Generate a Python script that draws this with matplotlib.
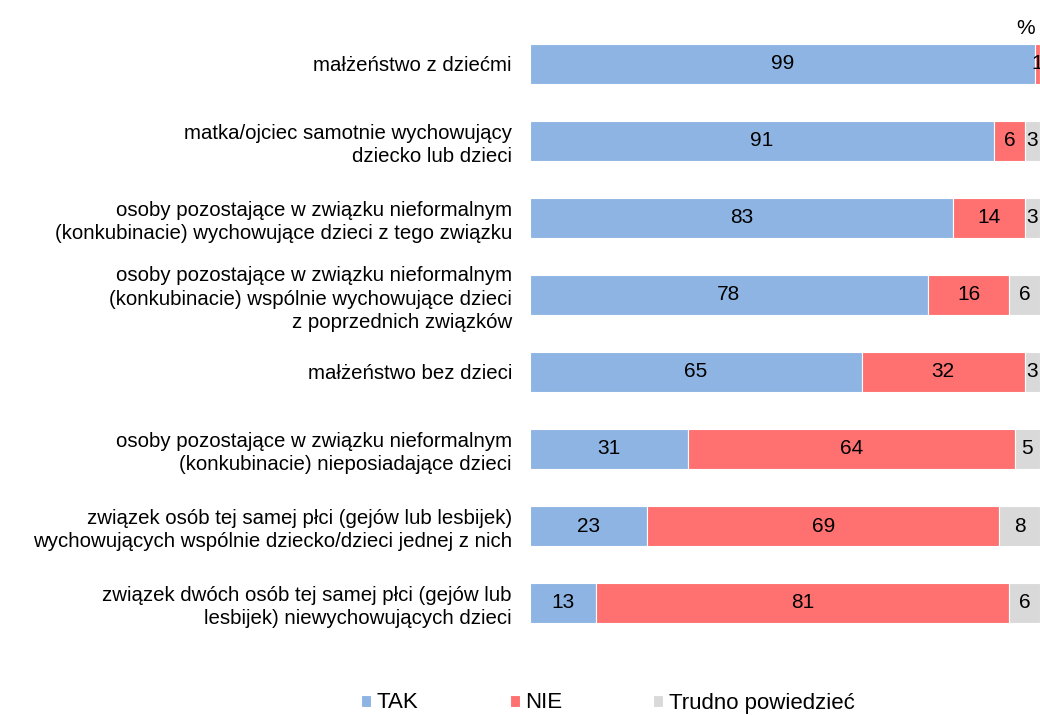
import matplotlib.pyplot as plt

plt.rcParams['font.family'] = ['Liberation Sans', 'DejaVu Sans']

categories = [
    "małżeństwo z dziećmi",
    "matka/ojciec samotnie wychowujący\ndziecko lub dzieci",
    "osoby pozostające w związku nieformalnym\n(konkubinacie) wychowujące dzieci z tego związku",
    "osoby pozostające w związku nieformalnym\n(konkubinacie) wspólnie wychowujące dzieci\nz poprzednich związków",
    "małżeństwo bez dzieci",
    "osoby pozostające w związku nieformalnym\n(konkubinacie) nieposiadające dzieci",
    "związek osób tej samej płci (gejów lub lesbijek)\nwychowujących wspólnie dziecko/dzieci jednej z nich",
    "związek dwóch osób tej samej płci (gejów lub\nlesbijek) niewychowujących dzieci",
]
tak = [99, 91, 83, 78, 65, 31, 23, 13]
nie = [1, 6, 14, 16, 32, 64, 69, 81]
trudno = [0, 3, 3, 6, 3, 5, 8, 6]

series = [("TAK", tak, "#8EB4E3"), ("NIE", nie, "#FF7171"), ("Trudno powiedzieć", trudno, "#D9D9D9")]

fig = plt.figure(figsize=(10.4, 7.15), dpi=100)
ax = fig.add_axes([530 / 1040, 1 - 641.5 / 715, 510 / 1040, 616 / 715])

y = list(range(len(categories)))
left = [0] * len(categories)
for name, vals, color in series:
    bars = ax.barh(y, vals, left=left, height=0.51, color=color, label=name,
                   edgecolor="white", linewidth=0.8)
    for b, v, l in zip(bars, vals, left):
        if v > 0:
            ax.text(l + v / 2, b.get_y() + b.get_height() / 2, str(v),
                    ha="center", va="center", fontsize=15, color="black")
    left = [a + b for a, b in zip(left, vals)]

ax.set_xlim(0, 100)
ax.set_ylim(7.5, -0.5)
ax.set_yticks(y)
ax.set_yticklabels(categories, fontsize=14.7, linespacing=1.27)
ax.tick_params(axis="y", length=0, pad=13)
ax.set_xticks([])
for s in ax.spines.values():
    s.set_visible(False)

fig.text(1035 / 1040, 1 - 28 / 715, "%", ha="right", va="center", fontsize=15)

fig.legend(loc="center", bbox_to_anchor=(608 / 1040, 1 - 703 / 715), ncol=3, frameon=False,
           fontsize=16, handlelength=0.45, handleheight=0.45, handletextpad=0.25,
           columnspacing=4.1)

fig.savefig("out.png", dpi=100)
